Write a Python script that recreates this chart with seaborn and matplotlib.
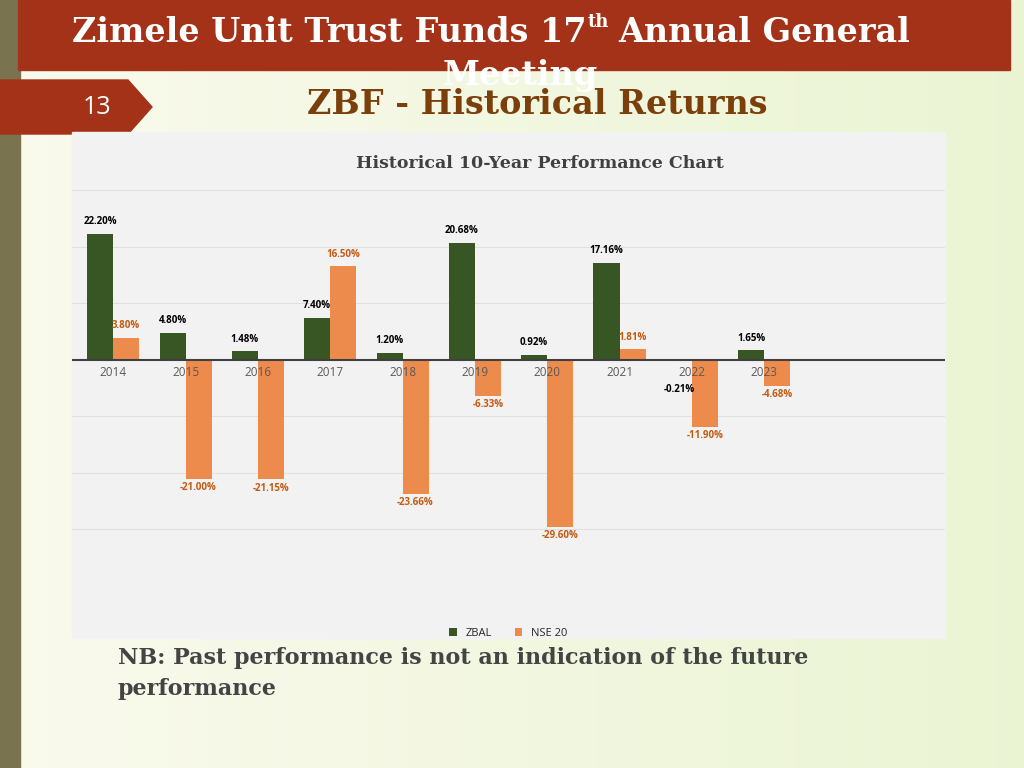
import numpy as np
import pandas as pd
import matplotlib.pyplot as plt
import seaborn as sns
from matplotlib.patches import Rectangle, Polygon

years = ['2014', '2015', '2016', '2017', '2018', '2019', '2020', '2021', '2022', '2023']
zbal = [22.20, 4.80, 1.48, 7.40, 1.20, 20.68, 0.92, 17.16, -0.21, 1.65]
nse20 = [3.80, -21.00, -21.15, 16.50, -23.66, -6.33, -29.60, 1.81, -11.90, -4.68]

df = pd.DataFrame({'year': years * 2, 'value': zbal + nse20,
                   'series': ['ZBAL'] * 10 + ['NSE 20'] * 10})

sns.set_theme(style='white')
plt.rcParams['font.family'] = ['Open Sans', 'DejaVu Sans']

fig = plt.figure(figsize=(10.24, 7.68), dpi=100)

# slide background
bg = fig.add_axes([0, 0, 1, 1])
bg.set_xlim(0, 1024); bg.set_ylim(768, 0); bg.axis('off')
grad = np.linspace(0, 1, 256).reshape(1, -1)
bg.imshow(np.dstack([0.98 - 0.06 * grad, 0.98 - 0.02 * grad, 0.93 - 0.1 * grad]),
          extent=[0, 1024, 768, 0], aspect='auto')
bg.add_patch(Rectangle((0, 0), 20, 768, color='#7a7350'))
bg.add_patch(Rectangle((18, 0), 992, 70, color='#A33218'))
serif = 'DejaVu Serif'
bg.text(72, 32, 'Zimele Unit Trust Funds 17', color='white', fontsize=24,
        fontweight='bold', family=serif, ha='left', va='center')
bg.text(588, 22, 'th', color='white', fontsize=13, fontweight='bold', family=serif,
        ha='left', va='center')
bg.text(618, 32, 'Annual General', color='white', fontsize=24, fontweight='bold',
        family=serif, ha='left', va='center')
bg.text(520, 75, 'Meeting', color='white', fontsize=24, fontweight='bold',
        family=serif, ha='center', va='center')
bg.add_patch(Polygon([(0, 80), (128, 80), (152, 107), (128, 134), (0, 134)], color='#A33218'))
bg.text(97, 107, '13', color='white', fontsize=18, ha='center', va='center')
bg.text(537, 104, 'ZBF - Historical Returns', color='#7B3F0C', fontsize=24,
        fontweight='bold', family=serif, ha='center', va='center')
bg.add_patch(Rectangle((72, 132), 873, 506, color='#f2f2f2'))
bg.text(118, 658, 'NB: Past performance is not an indication of the future', color='#444444',
        fontsize=16, fontweight='bold', family=serif, va='center')
bg.text(118, 689, 'performance', color='#444444',
        fontsize=16, fontweight='bold', family=serif, va='center')
bg.text(540, 163, 'Historical 10-Year Performance Chart', color='#404040', fontsize=12.5,
        fontweight='bold', family=serif, ha='center', va='center')

ax = fig.add_axes([72 / 1024, 1 - 586 / 768, 873 / 1024, 396 / 768])
ax.patch.set_alpha(0)
sns.barplot(data=df, x='year', y='value', hue='series', ax=ax, width=0.72,
            palette={'ZBAL': '#375623', 'NSE 20': '#ED8B4C'}, saturation=1, linewidth=0)
ax.set_xlim(-0.57, 11.5)
ax.set_ylim(-40, 30)
for y in [30, 20, 10, -10, -20, -30, -40]:
    ax.axhline(y, color='#e0e0e0', lw=0.8, zorder=0)
ax.axhline(0, color='#404040', lw=1.5)
for s in ax.spines.values():
    s.set_visible(False)
ax.set_xticks([]); ax.set_yticks([])
ax.set_xlabel(''); ax.set_ylabel('')
for i, yr in enumerate(years):
    ax.text(i, -2.2, yr, ha='center', va='center', fontsize=8.5, color='#595959')
for i, (z, n) in enumerate(zip(zbal, nse20)):
    ax.text(i - 0.18, z + 1.2 if z > 0 else z - 6, f'{z:.2f}%', ha='center', va='bottom',
            fontsize=7, fontweight='bold', color='black')
    ax.text(i + 0.18, n + 1.2 if n > 0 else n - 2.5, f'{n:.2f}%', ha='center', va='bottom',
            fontsize=7, fontweight='bold', color='#C55A11')
ax.legend(loc='upper center', bbox_to_anchor=(0.5, -0.08), ncol=2, frameon=False,
          fontsize=8, handlelength=0.7, handleheight=0.7)

fig.savefig('out.png', dpi=100)
